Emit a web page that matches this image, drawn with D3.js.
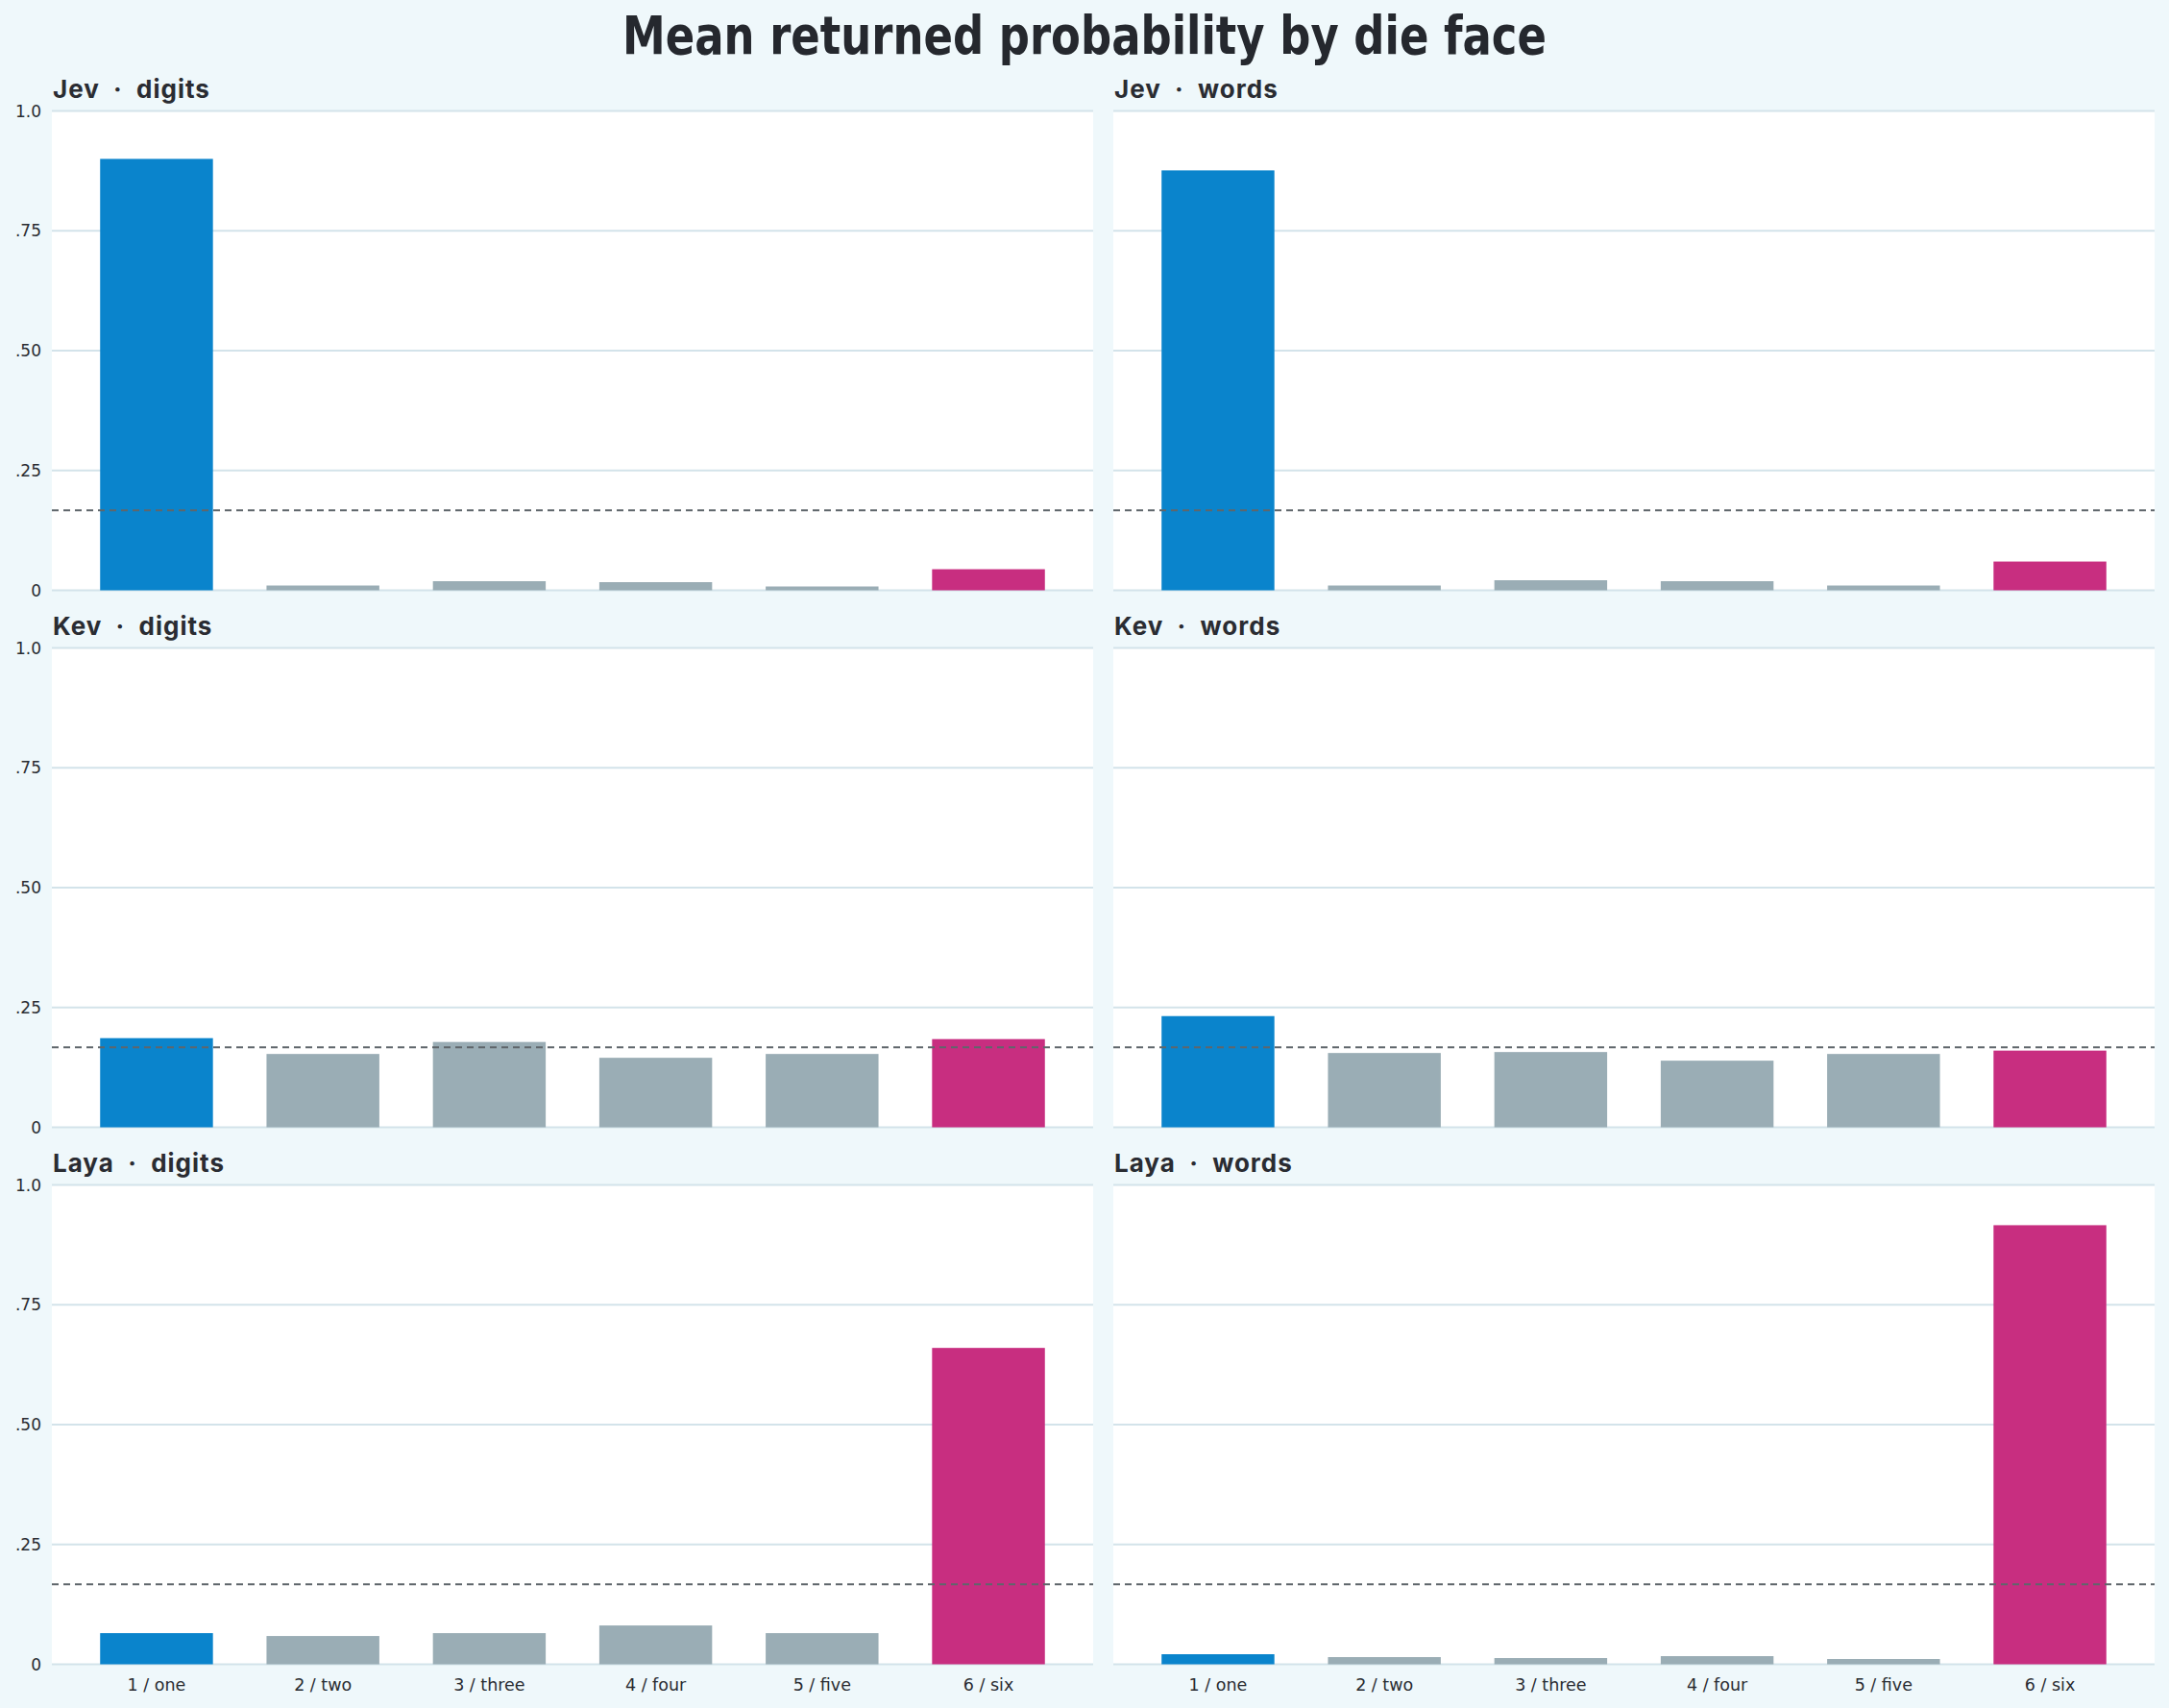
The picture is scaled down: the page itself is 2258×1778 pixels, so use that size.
<!DOCTYPE html>
<html>
<head>
<meta charset="utf-8">
<script src="https://cdn.jsdelivr.net/npm/d3@7"></script>
<style>
  body { margin: 0; background: #eff8fb; }
</style>
</head>
<body>
<div id="chart"></div>
<script>
// die faces on the x axis
const faces = ['1 / one', '2 / two', '3 / three', '4 / four', '5 / five', '6 / six'];
const players = ['Jev', 'Kev', 'Laya'];
const formats = ['digits', 'words'];

// mean returned probability per face
const jevDigits  = [0.900, 0.010, 0.019, 0.017, 0.008, 0.044];
const jevWords   = [0.876, 0.010, 0.021, 0.019, 0.010, 0.060];
const kevDigits  = [0.186, 0.153, 0.178, 0.145, 0.153, 0.184];
const kevWords   = [0.232, 0.155, 0.157, 0.139, 0.153, 0.160];
const layaDigits = [0.065, 0.059, 0.065, 0.081, 0.065, 0.660];
const layaWords  = [0.021, 0.015, 0.013, 0.017, 0.011, 0.916];

const yTicks = [0, 0.25, 0.5, 0.75, 1.0];
const yTickLabels = ['0', '.25', '.50', '.75', '1.0'];
const chance = 1 / 6;

const panelValues = {
    'Jev|digits': jevDigits, 'Jev|words': jevWords,
    'Kev|digits': kevDigits, 'Kev|words': kevWords,
    'Laya|digits': layaDigits, 'Laya|words': layaWords
};

const W = 2258, H = 1778;
const colLeft = [54, 1159];
const colWidth = 1084;
const rowTop0 = 115.5, rowStep = 559, plotH = 499;

const svg = d3.select('#chart').append('svg')
    .attr('width', W)
    .attr('height', H)
    .style('display', 'block');

svg.append('rect').attr('width', W).attr('height', H).attr('fill', '#eff8fb');

svg.append('text')
    .attr('x', W / 2)
    .attr('y', 56)
    .attr('text-anchor', 'middle')
    .attr('textLength', 962)
    .attr('lengthAdjust', 'spacingAndGlyphs')
    .style('font-family', '"DejaVu Sans Condensed", "DejaVu Sans", sans-serif')
    .style('font-weight', 'bold')
    .style('font-size', '56px')
    .style('fill', '#25282e')
    .text('Mean returned probability by die face');

const yScale = d3.scaleLinear().domain([0, 1]).range([plotH, 0]);

players.forEach((player, ri) => {
    formats.forEach((fmt, ci) => {
        const values = panelValues[player + '|' + fmt];
        const g = svg.append('g')
            .attr('transform', `translate(${colLeft[ci]},${rowTop0 + ri * rowStep})`);

        const xScale = d3.scaleBand()
            .domain(faces)
            .range([0, colWidth])
            .paddingInner(0.322)
            .paddingOuter(0.29);

        // white plot area
        g.append('rect')
            .attr('width', colWidth)
            .attr('height', plotH)
            .attr('fill', '#ffffff');

        // grid lines
        g.selectAll('.grid')
            .data(yTicks)
            .enter().append('line')
            .attr('x1', 0)
            .attr('x2', colWidth)
            .attr('y1', d => yScale(d))
            .attr('y2', d => yScale(d))
            .attr('stroke', '#d3e3ea')
            .attr('stroke-width', 2);

        // bars
        g.selectAll('.bar')
            .data(values)
            .enter().append('rect')
            .attr('x', (d, i) => xScale(faces[i]))
            .attr('y', d => yScale(d))
            .attr('width', xScale.bandwidth())
            .attr('height', d => plotH - yScale(d))
            .attr('fill', (d, i) => i === 0 ? '#0a84cc' : (i === faces.length - 1 ? '#c82e80' : '#9aadb5'));

        // chance line
        g.append('line')
            .attr('x1', 0)
            .attr('x2', colWidth)
            .attr('y1', yScale(chance))
            .attr('y2', yScale(chance))
            .attr('stroke', '#5f666b')
            .attr('stroke-width', 2)
            .attr('stroke-dasharray', '7,5');

        // panel title
        g.append('text')
            .attr('x', 1)
            .attr('y', -14)
            .style('font-family', 'Inter, "Noto Sans", sans-serif')
            .style('font-weight', 700)
            .style('font-size', '26px')
            .style('letter-spacing', '1px')
            .style('fill', '#2a2c32')
            .text(player + '\u00a0\u00a0·\u00a0\u00a0' + fmt);

        // y tick labels, left column only
        if (ci === 0) {
            g.selectAll('.ytick')
                .data(yTicks)
                .enter().append('text')
                .attr('x', -11)
                .attr('y', d => yScale(d))
                .attr('dy', '0.36em')
                .attr('text-anchor', 'end')
                .style('font-family', '"DejaVu Sans", sans-serif')
                .style('font-size', '17px')
                .style('fill', '#2a2c32')
                .text((d, i) => yTickLabels[i]);
        }

        // x tick labels, bottom row only
        if (ri === players.length - 1) {
            g.selectAll('.xtick')
                .data(faces)
                .enter().append('text')
                .attr('x', d => xScale(d) + xScale.bandwidth() / 2)
                .attr('y', plotH + 27)
                .attr('text-anchor', 'middle')
                .style('font-family', '"DejaVu Sans", sans-serif')
                .style('font-size', '17.5px')
                .style('fill', '#2a2c32')
                .text(d => d);
        }
    });
});
</script>
</body>
</html>
